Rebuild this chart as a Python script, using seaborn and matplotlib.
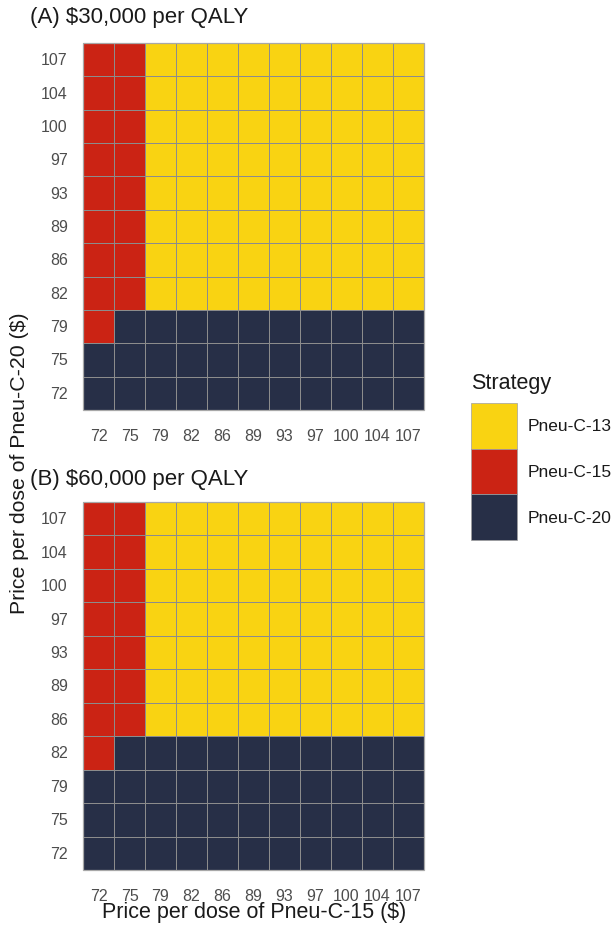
import numpy as np
import pandas as pd
import matplotlib
matplotlib.use("Agg")
import matplotlib.pyplot as plt
from matplotlib.colors import ListedColormap
from matplotlib.patches import Rectangle
import seaborn as sns

sns.set_theme(style="white")
plt.rcParams['font.family'] = ['Liberation Sans', 'DejaVu Sans']

prices = [72, 75, 79, 82, 86, 89, 93, 97, 100, 104, 107]
strategies = ["Pneu-C-13", "Pneu-C-15", "Pneu-C-20"]
colors = ["#F9D312", "#CB2314", "#272F47"]

# rows: Pneu-C-20 price from 107 (top) down to 72 (bottom); columns: Pneu-C-15 price 72..107
# 0 = Pneu-C-13, 1 = Pneu-C-15, 2 = Pneu-C-20
grid_30k = [
    [1, 1, 0, 0, 0, 0, 0, 0, 0, 0, 0],  # 107
    [1, 1, 0, 0, 0, 0, 0, 0, 0, 0, 0],  # 104
    [1, 1, 0, 0, 0, 0, 0, 0, 0, 0, 0],  # 100
    [1, 1, 0, 0, 0, 0, 0, 0, 0, 0, 0],  # 97
    [1, 1, 0, 0, 0, 0, 0, 0, 0, 0, 0],  # 93
    [1, 1, 0, 0, 0, 0, 0, 0, 0, 0, 0],  # 89
    [1, 1, 0, 0, 0, 0, 0, 0, 0, 0, 0],  # 86
    [1, 1, 0, 0, 0, 0, 0, 0, 0, 0, 0],  # 82
    [1, 2, 2, 2, 2, 2, 2, 2, 2, 2, 2],  # 79
    [2, 2, 2, 2, 2, 2, 2, 2, 2, 2, 2],  # 75
    [2, 2, 2, 2, 2, 2, 2, 2, 2, 2, 2],  # 72
]
grid_60k = [
    [1, 1, 0, 0, 0, 0, 0, 0, 0, 0, 0],  # 107
    [1, 1, 0, 0, 0, 0, 0, 0, 0, 0, 0],  # 104
    [1, 1, 0, 0, 0, 0, 0, 0, 0, 0, 0],  # 100
    [1, 1, 0, 0, 0, 0, 0, 0, 0, 0, 0],  # 97
    [1, 1, 0, 0, 0, 0, 0, 0, 0, 0, 0],  # 93
    [1, 1, 0, 0, 0, 0, 0, 0, 0, 0, 0],  # 89
    [1, 1, 0, 0, 0, 0, 0, 0, 0, 0, 0],  # 86
    [1, 2, 2, 2, 2, 2, 2, 2, 2, 2, 2],  # 82
    [2, 2, 2, 2, 2, 2, 2, 2, 2, 2, 2],  # 79
    [2, 2, 2, 2, 2, 2, 2, 2, 2, 2, 2],  # 75
    [2, 2, 2, 2, 2, 2, 2, 2, 2, 2, 2],  # 72
]
titles = ["(A) $30,000 per QALY", "(B) $60,000 per QALY"]

W, H = 613, 928
fig = plt.figure(figsize=(W / 100, H / 100), dpi=100)

def ax_at(l, t, r, b):
    return fig.add_axes([l / W, 1 - b / H, (r - l) / W, (b - t) / H])

axA = ax_at(83, 44, 424, 411)
axB = ax_at(83, 503, 424, 871)
cmap = ListedColormap(colors)
rows = prices[::-1]

for ax, grid, title, ty in zip([axA, axB], [grid_30k, grid_60k], titles, [18, 480]):
    df = pd.DataFrame(grid, index=rows, columns=prices)
    sns.heatmap(df, ax=ax, cmap=cmap, vmin=-0.5, vmax=2.5, cbar=False,
                linewidths=0.7, linecolor="#8c8c8c", square=False)
    ax.add_patch(Rectangle((0, 0), len(prices), len(rows), fill=False,
                           edgecolor="#a8a8a8", lw=0.9, clip_on=False))
    ax.set_xticks(np.arange(len(prices)) + 0.5)
    ax.set_xticklabels(prices, rotation=0)
    ax.set_yticks(np.arange(len(rows)) + 0.5)
    ax.set_yticklabels(rows, rotation=0)
    ax.tick_params(axis="both", which="both", length=3, width=0.8,
                   color="#e0e0e0", labelsize=11.5, labelcolor="#4d4d4d")
    ax.tick_params(axis="x", pad=10)
    ax.tick_params(axis="y", pad=8)
    ax.set_xlabel("")
    ax.set_ylabel("")
    fig.text(30 / W, 1 - ty / H, title, ha="left", va="center",
             fontsize=16, color="#1a1a1a")

fig.text(254 / W, 1 - 913 / H, "Price per dose of Pneu-C-15 ($)",
         ha="center", va="center", fontsize=15.5, color="#1a1a1a")
fig.text(20 / W, 1 - 463 / H, "Price per dose of Pneu-C-20 ($)",
         ha="center", va="center", rotation=90, fontsize=15.3, color="#1a1a1a")

# legend
fig.text(471 / W, 1 - 383 / H, "Strategy", ha="left", va="center",
         fontsize=15.5, color="#1a1a1a")
box_top = 404
box_h = 45.7
for i, (lab, col) in enumerate(zip(strategies, colors)):
    y0 = box_top + i * box_h
    fig.patches.append(Rectangle((471 / W, 1 - (y0 + box_h) / H), 46 / W, box_h / H,
                                 transform=fig.transFigure, facecolor=col,
                                 edgecolor="#a0a0a0", lw=0.5))
    fig.text(528 / W, 1 - (y0 + box_h / 2) / H, lab, ha="left", va="center",
             fontsize=12.5, color="#1a1a1a")

fig.savefig("out.png", dpi=100, facecolor="white")
